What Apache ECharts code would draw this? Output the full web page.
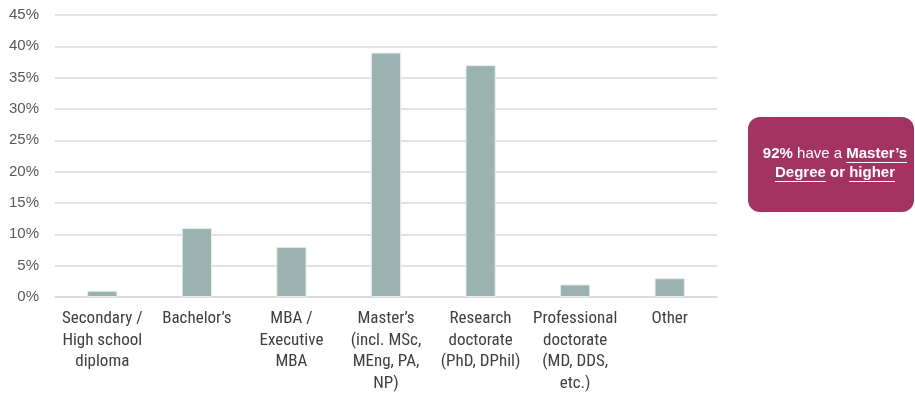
<!DOCTYPE html>
<html>
<head>
<meta charset="utf-8">
<script src="https://cdn.jsdelivr.net/npm/echarts@6/dist/echarts.min.js"></script>
<style>
  html, body { margin: 0; padding: 0; background: #ffffff; }
  #chart { width: 915px; height: 394px; }
</style>
</head>
<body>
<div id="chart"></div>
<script>
// Highest qualification held, share of respondents (%)
const categories = [
  'Secondary /\nHigh school\ndiploma',
  'Bachelor\u2019s',
  'MBA /\nExecutive\nMBA',
  'Master\u2019s\n(incl. MSc,\nMEng, PA,\nNP)',
  'Research\ndoctorate\n(PhD, DPhil)',
  'Professional\ndoctorate\n(MD, DDS,\netc.)',
  'Other'
];
const shares = [1, 11, 8, 39, 37, 2, 3];
const yTicks = { min: 0, max: 45, interval: 5 };

// Callout text, split into styled runs (bold / underlined)
const calloutLines = [
  [ { t: '92%', b: true }, { t: ' have a ', b: false }, { t: 'Master\u2019s', b: true, u: true } ],
  [ { t: 'Degree', b: true, u: true }, { t: ' or ', b: true }, { t: 'higher', b: true, u: true } ]
];

const LABEL_FONT = '"Roboto Condensed", "Liberation Sans", Arial, sans-serif';
const TICK_FONT = '"Liberation Sans", Arial, sans-serif';
const CALLOUT_FONT = '"Liberation Sans", Arial, sans-serif';

const chart = echarts.init(document.getElementById('chart'), null, { renderer: 'canvas' });

// Lay out the callout runs using canvas text metrics
const measureCtx = document.createElement('canvas').getContext('2d');
function runWidth(run, size) {
  measureCtx.font = (run.b ? 'bold ' : '') + size + 'px ' + CALLOUT_FONT;
  return measureCtx.measureText(run.t).width;
}
const box = { x: 748, y: 117, w: 166, h: 95, r: 12 };
const calloutSize = 15;
const lineGap = 19;
const calloutElems = [
  { type: 'rect', shape: { x: box.x, y: box.y, width: box.w, height: box.h, r: box.r },
    style: { fill: '#A33462' } }
];
const firstBaseline = box.y + box.h / 2 - lineGap / 2 - 1;
calloutLines.forEach((line, li) => {
  const widths = line.map(r => runWidth(r, calloutSize));
  const total = widths.reduce((a, b) => a + b, 0);
  let x = box.x + box.w / 2 - total / 2 + 4;
  const cy = firstBaseline + li * lineGap;
  line.forEach((run, i) => {
    calloutElems.push({
      type: 'text',
      style: {
        x: x, y: cy, text: run.t,
        fill: '#ffffff',
        font: (run.b ? 'bold ' : '') + calloutSize + 'px ' + CALLOUT_FONT,
        textAlign: 'left', textVerticalAlign: 'middle'
      }
    });
    if (run.u) {
      calloutElems.push({
        type: 'line',
        shape: { x1: x, y1: cy + 8.5, x2: x + widths[i], y2: cy + 8.5 },
        style: { stroke: '#ffffff', lineWidth: 1 }
      });
    }
    x += widths[i];
  });
});

chart.setOption({
  animation: false,
  backgroundColor: '#ffffff',
  grid: { left: 55, right: 198, top: 15, bottom: 97, containLabel: false },
  xAxis: {
    type: 'category',
    data: categories,
    axisLine: { show: true, lineStyle: { color: '#d9d9d9', width: 1.5 } },
    axisTick: { show: false },
    axisLabel: {
      interval: 0,
      margin: 11,
      color: '#404040',
      fontFamily: LABEL_FONT,
      fontSize: 17,
      lineHeight: 21.5,
      align: 'center'
    }
  },
  yAxis: {
    type: 'value',
    min: yTicks.min,
    max: yTicks.max,
    interval: yTicks.interval,
    axisLine: { show: false },
    axisTick: { show: false },
    splitLine: { lineStyle: { color: '#d9d9d9', width: 1.5 } },
    axisLabel: {
      formatter: v => v + '%',
      color: '#595959',
      fontFamily: TICK_FONT,
      fontSize: 15,
      margin: 16
    }
  },
  series: [{
    type: 'bar',
    data: shares,
    barWidth: '32%',
    itemStyle: { color: '#9BB3B0', borderColor: '#E6EEED', borderWidth: 1 }
  }],
  graphic: calloutElems
});
</script>
</body>
</html>
